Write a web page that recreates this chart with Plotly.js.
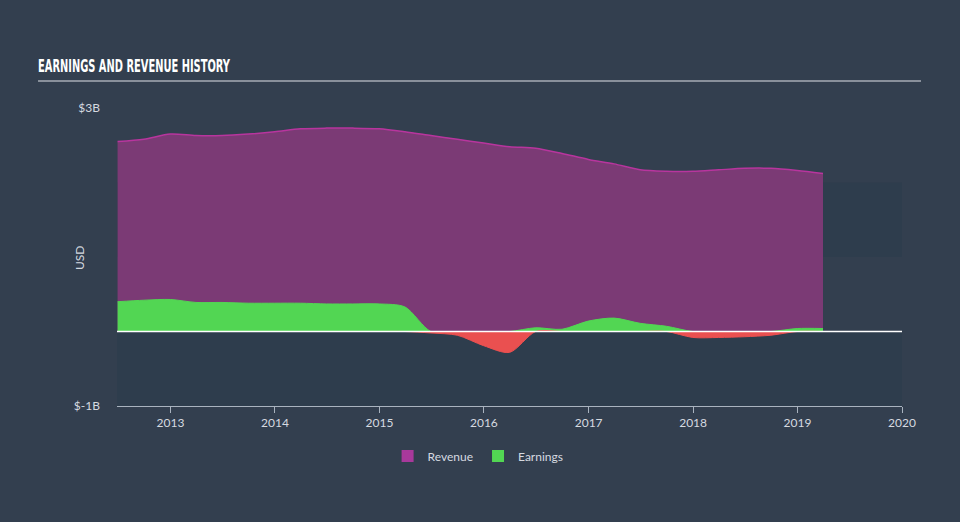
<!DOCTYPE html>
<html>
<head>
<meta charset="utf-8">
<script src="https://cdn.plot.ly/plotly-3.0.1.min.js"></script>
<style>
  html, body { margin: 0; padding: 0; background: #333f4f; }
  #chart { width: 960px; height: 522px; }
</style>
</head>
<body>
<div id="chart"></div>
<script>
// Quarter-end dates
const dates = [
  '2012-06-30','2012-09-30','2012-12-31','2013-03-31','2013-06-30','2013-09-30','2013-12-31',
  '2014-03-31','2014-06-30','2014-09-30','2014-12-31','2015-03-31','2015-06-30','2015-09-30',
  '2015-12-31','2016-03-31','2016-06-30','2016-09-30','2016-12-31','2017-03-31','2017-06-30',
  '2017-09-30','2017-12-31','2018-03-31','2018-06-30','2018-09-30','2018-12-31','2019-03-31'
];
// Revenue, USD billions
const revenue = [
  2.55, 2.58, 2.65, 2.63, 2.63, 2.65, 2.68,
  2.72, 2.73, 2.73, 2.72, 2.68, 2.63, 2.58,
  2.53, 2.48, 2.46, 2.39, 2.31, 2.25, 2.17,
  2.15, 2.15, 2.17, 2.19, 2.19, 2.16, 2.12
];
// Earnings, USD billions
const earnings = [
  0.40, 0.42, 0.43, 0.39, 0.39, 0.38, 0.38,
  0.38, 0.37, 0.37, 0.37, 0.33, -0.02, -0.05,
  -0.19, -0.28, 0.05, 0.03, 0.14, 0.18, 0.11,
  0.07, -0.08, -0.08, -0.07, -0.05, 0.04, 0.04
];
const yTickVals = [3, -1];
const yTickText = ['$3B', '$-1B'];
const xTickVals = ['2013-01-01','2014-01-01','2015-01-01','2016-01-01','2017-01-01','2018-01-01','2019-01-01','2020-01-01'];
const xTickText = ['2013','2014','2015','2016','2017','2018','2019','2020'];
const seriesNames = ['Revenue', 'Earnings'];

const earnPos = earnings.map(v => Math.max(v, 0));
const earnNeg = earnings.map(v => Math.min(v, 0));

const traces = [
  {
    x: dates, y: revenue, name: seriesNames[0], type: 'scatter', mode: 'lines',
    fill: 'tozeroy', fillcolor: '#7b3a75', showlegend: false,
    line: { color: '#b8359e', width: 1.5, shape: 'spline', smoothing: 0.8 },
    hoverinfo: 'skip'
  },
  {
    x: dates, y: earnPos, name: seriesNames[1], type: 'scatter', mode: 'lines',
    fill: 'tozeroy', fillcolor: '#52d653', showlegend: false,
    line: { color: '#52d653', width: 1, shape: 'spline', smoothing: 0.8 },
    hoverinfo: 'skip'
  },
  {
    x: dates, y: earnNeg, name: 'Earnings (loss)', type: 'scatter', mode: 'lines',
    fill: 'tozeroy', fillcolor: '#ea5050', showlegend: false,
    line: { color: '#ea5050', width: 1, shape: 'spline', smoothing: 0.8 },
    hoverinfo: 'skip'
  },
  // legend entries
  {
    x: [null], y: [null], name: seriesNames[0], type: 'scatter', mode: 'markers',
    marker: { symbol: 'square', size: 12, color: '#a8399b' }, hoverinfo: 'skip'
  },
  {
    x: [null], y: [null], name: seriesNames[1], type: 'scatter', mode: 'markers',
    marker: { symbol: 'square', size: 12, color: '#52d653' }, hoverinfo: 'skip'
  }
];

const layout = {
  width: 960, height: 522,
  paper_bgcolor: '#333f4f',
  plot_bgcolor: 'rgba(0,0,0,0)',
  margin: { l: 117, r: 58, t: 108, b: 116 },
  showlegend: true,
  legend: {
    orientation: 'h', x: 0.46, xanchor: 'center', y: -0.168, yanchor: 'middle',
    font: { family: 'Lato, Open Sans, sans-serif', size: 12, color: '#d6dae0' },
    bgcolor: 'rgba(0,0,0,0)', itemwidth: 30, tracegroupgap: 0
  },
  xaxis: {
    type: 'date',
    range: ['2012-06-28', '2020-01-01'],
    tickvals: xTickVals, ticktext: xTickText,
    showgrid: false, zeroline: false,
    showline: true, linecolor: '#a9b3bf', linewidth: 1,
    ticks: 'outside', ticklen: 6, tickcolor: '#a9b3bf',
    tickfont: { family: 'Lato, Open Sans, sans-serif', size: 12, color: '#d6dae0' }
  },
  yaxis: {
    range: [-1, 3],
    tickvals: yTickVals, ticktext: yTickText,
    showgrid: false, zeroline: false,
    showline: false, ticks: '',
    ticklabelstandoff: 16,
    tickfont: { family: 'Lato, Open Sans, sans-serif', size: 12, color: '#d6dae0' }
  },
  shapes: [
    { type: 'rect', xref: 'paper', yref: 'y', x0: 0, x1: 1, y0: -1, y1: 0, fillcolor: '#2e3d4d', line: { width: 0 }, layer: 'below' },
    { type: 'rect', xref: 'paper', yref: 'y', x0: 0, x1: 1, y0: 1, y1: 2, fillcolor: '#2e3d4d', line: { width: 0 }, layer: 'below' },
    { type: 'line', xref: 'paper', yref: 'y', x0: 0, x1: 1, y0: 0, y1: 0, line: { color: '#ffffff', width: 1.5 }, layer: 'above' },
    { type: 'line', xref: 'paper', yref: 'paper', x0: -0.1006, x1: 1.0242, y0: 1.0906, y1: 1.0906, line: { color: '#a7adb5', width: 1.5 } }
  ],
  annotations: [
    {
      text: '<b>EARNINGS AND REVENUE HISTORY</b>', xref: 'paper', yref: 'paper',
      x: -0.1006, y: 1.099, xanchor: 'left', yanchor: 'bottom', showarrow: false,
      font: { family: 'DejaVu Sans', size: 17, color: '#ffffff' }
    },
    {
      text: 'USD', xref: 'paper', yref: 'paper', x: -0.047, y: 0.497,
      xanchor: 'center', yanchor: 'middle', textangle: -90, showarrow: false,
      font: { family: 'Lato, Open Sans, sans-serif', size: 12, color: '#d6dae0' }
    }
  ]
};

Plotly.newPlot('chart', traces, layout, { displayModeBar: false, staticPlot: true }).then(() => {
  const t = document.querySelector('#chart .annotation-text');
  if (t) {
    t.style.fontStretch = 'condensed';
    t.setAttribute('textLength', '192');
    t.setAttribute('lengthAdjust', 'spacingAndGlyphs');
    const rect = t.getBoundingClientRect();
    const chartRect = document.getElementById('chart').getBoundingClientRect();
    const dx = 38 - (rect.left - chartRect.left);
    const x0 = parseFloat(t.getAttribute('x') || '0');
    t.setAttribute('x', String(x0 + dx));
  }
});
</script>
</body>
</html>
